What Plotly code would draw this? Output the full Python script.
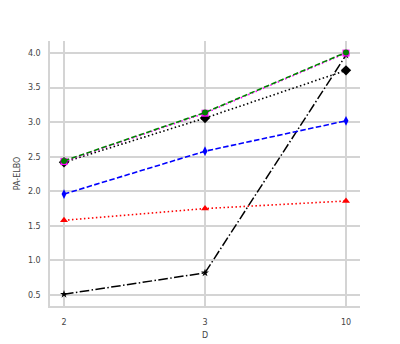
import plotly.graph_objects as go

D = ["2", "3", "10"]
magenta_sq = [2.43, 3.13, 4.00]
green_circ = [2.44, 3.14, 4.01]
black_diam = [2.42, 3.06, 3.75]
blue_diam = [1.96, 2.58, 3.02]
red_tri = [1.58, 1.75, 1.86]
black_star = [0.51, 0.82, 3.97]
y_ticks = [0.5, 1.0, 1.5, 2.0, 2.5, 3.0, 3.5, 4.0]

DASH = "5.5px,2.4px"
DOT = "1.5px,2.5px"
DASHDOT = "9.6px,2.4px,1.5px,2.4px"

series = [
    (black_star, "black", DASHDOT, "star", 6, 1.5),
    (red_tri, "red", DOT, "triangle-up", 7, 1.6),
    (blue_diam, "blue", DASH, "diamond-tall", 7, 1.6),
    (black_diam, "black", DOT, "diamond", 8, 1.6),
    (magenta_sq, "magenta", DOT, "square", 7, 1.6),
    (green_circ, "green", DASH, "circle", 6, 1.6),
]

fig = go.Figure()
for ys, col, dash, sym, sz, w in series:
    fig.add_trace(go.Scatter(
        x=D, y=ys, mode="lines+markers",
        line=dict(color=col, dash=dash, width=w),
        marker=dict(symbol=sym, size=sz, color=col),
        showlegend=False,
    ))

grid = "#d4d4d4"
fig.update_layout(
    width=392, height=336,
    margin=dict(l=42, r=40, t=33, b=38),
    paper_bgcolor="white", plot_bgcolor="white",
    font=dict(family="DejaVu Sans", size=8, color="#444"),
    xaxis=dict(
        type="category", range=[-0.0993, 2.0993], automargin=False,
        showgrid=True, gridcolor=grid, gridwidth=1.5,
        showline=True, linecolor=grid, linewidth=1.5, mirror=False,
        ticks="", ticklabelstandoff=8,
        title=dict(text="D", standoff=6, font=dict(size=8)),
        zeroline=False,
    ),
    yaxis=dict(
        range=[0.34, 4.175], tickvals=y_ticks, automargin=False,
        tickformat=".1f",
        showgrid=True, gridcolor=grid, gridwidth=1.5,
        showline=True, linecolor=grid, linewidth=1.5,
        ticks="", ticklabelstandoff=6,
        title=dict(text="PA-ELBO", standoff=6, font=dict(size=8)),
        zeroline=False,
    ),
)
fig.write_html("out.html")
